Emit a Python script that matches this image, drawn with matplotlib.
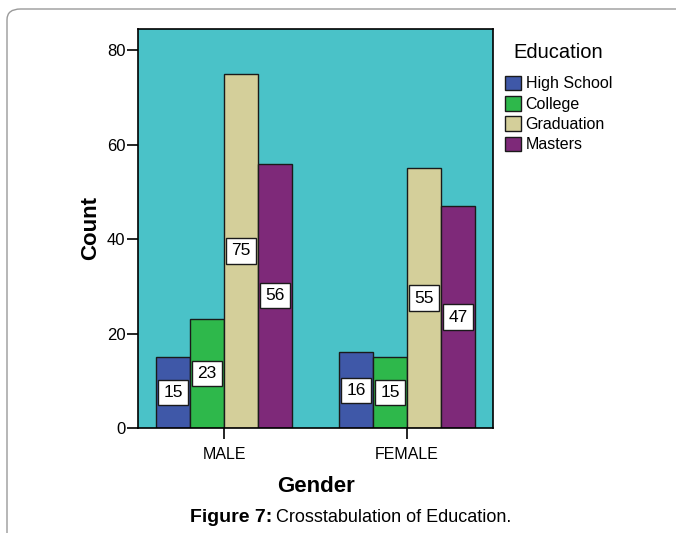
import matplotlib.pyplot as plt
import numpy as np
from matplotlib.patches import FancyBboxPatch, Patch

plt.rcParams['font.family'] = ['Liberation Sans', 'DejaVu Sans']

# Data
genders = ['MALE', 'FEMALE']
education = ['High School', 'College', 'Graduation', 'Masters']
counts = {
    'High School': [15, 16],
    'College': [23, 15],
    'Graduation': [75, 55],
    'Masters': [56, 47],
}
colors = ['#3F58A8', '#2EB84B', '#D4CF9A', '#7E2979']

fig = plt.figure(figsize=(6.76, 5.33), dpi=100)

# rounded grey frame around the figure
frame = FancyBboxPatch((7 / 676, -0.05), 1.2, (533 - 9) / 533 + 0.05,
                       boxstyle='round,pad=0,rounding_size=0.02',
                       transform=fig.transFigure, fill=False,
                       edgecolor='#9a9a9a', linewidth=1.0)
fig.patches.append(frame)

ax = fig.add_axes([138 / 676, 1 - 428 / 533, (493 - 138) / 676, (428 - 29) / 533])
ax.set_facecolor('#4AC2C8')

x = np.arange(len(genders))
width = 0.186
offsets = [-1.5, -0.5, 0.5, 1.5]

for i, edu in enumerate(education):
    vals = counts[edu]
    pos = x + offsets[i] * width
    ax.bar(pos, vals, width, color=colors[i], edgecolor='#1a1a1a', linewidth=1.0, zorder=2)
    for p, v in zip(pos, vals):
        ax.text(p, v / 2, str(v), ha='center', va='center', fontsize=12.5, zorder=3,
                bbox=dict(boxstyle='square,pad=0.3', facecolor='white',
                          edgecolor='#1a1a1a', linewidth=1.0))

ax.set_xlim(-0.47, 1.47)
ax.set_ylim(0, 84.5)
ax.set_yticks([0, 20, 40, 60, 80])
ax.set_xticks(x)
ax.set_xticklabels(genders, fontsize=11.5)
ax.tick_params(axis='y', labelsize=12, length=8, width=1.2, pad=1)
ax.tick_params(axis='x', length=8, width=1.2, pad=6)
for s in ax.spines.values():
    s.set_linewidth(1.2)
    s.set_color('black')

ax.set_xlabel('Gender', fontsize=16, fontweight='bold', labelpad=10)
ax.set_ylabel('Count', fontsize=16, fontweight='bold', labelpad=4)

handles = [Patch(facecolor=c, edgecolor='#1a1a1a', linewidth=1.0) for c in colors]
leg = fig.legend(handles, education, title='Education', loc='upper left',
                 bbox_to_anchor=(0.7375, 0.932), frameon=False, fontsize=11.5,
                 title_fontsize=14.5, handlelength=1.0, handleheight=1.05,
                 handletextpad=0.3, labelspacing=0.28, borderaxespad=0)
leg._legend_box.sep = 10

fig.text(272 / 676, 1 - 517 / 533, 'Figure 7:', ha='right', va='center',
         fontsize=14, fontweight='bold')
fig.text(276 / 676, 1 - 517 / 533, 'Crosstabulation of Education.', ha='left',
         va='center', fontsize=13)

fig.savefig('out.png', dpi=100)
